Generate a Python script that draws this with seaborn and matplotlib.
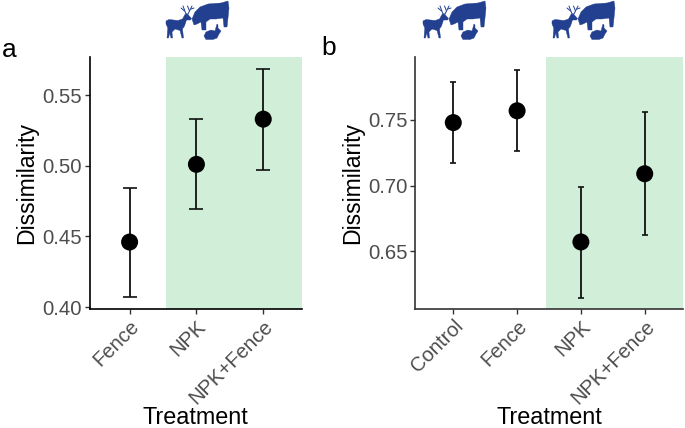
import numpy as np
import pandas as pd
import seaborn as sns
import matplotlib.pyplot as plt
from matplotlib.patches import Polygon

# panel a
treat_a = ["Fence", "NPK", "NPK+Fence"]
mean_a = [0.446, 0.501, 0.533]
low_a = [0.407, 0.4695, 0.497]
high_a = [0.484, 0.533, 0.5685]

# panel b
treat_b = ["Control", "Fence", "NPK", "NPK+Fence"]
mean_b = [0.748, 0.757, 0.657, 0.709]
low_b = [0.717, 0.7265, 0.614, 0.6625]
high_b = [0.779, 0.788, 0.699, 0.756]

ticks_a = [0.40, 0.45, 0.50, 0.55]
ticks_b = [0.65, 0.70, 0.75]

W, H = 685, 428
GREEN = "#d0eed8"
BLUE = "#22408f"

sns.set_theme(style="ticks")
plt.rcParams["font.family"] = ["Liberation Sans", "DejaVu Sans"]

fig = plt.figure(figsize=(W / 100, H / 100), dpi=100)


def px_axes(left, right, top, bottom):
    return fig.add_axes([left / W, 1 - bottom / H, (right - left) / W, (bottom - top) / H])


def panel(ax, treat, mean, low, high, ylim, yticks, xlim, green_from, cap, spine_col, ylab_x):
    df = pd.DataFrame({"Treatment": treat, "Dissimilarity": mean})
    ax.axvspan(green_from, xlim[1], color=GREEN, lw=0, zorder=0)
    ax.errorbar(range(len(treat)), mean,
                yerr=[np.array(mean) - np.array(low), np.array(high) - np.array(mean)],
                fmt="none", ecolor="#111111", elinewidth=1.3, capsize=cap, capthick=1.2, zorder=2)
    sns.scatterplot(data=df, x="Treatment", y="Dissimilarity", ax=ax, s=150, color="black",
                    edgecolor="none", zorder=3, clip_on=False)
    ax.set_xlim(*xlim)
    ax.set_ylim(*ylim)
    ax.set_yticks(yticks)
    ax.set_yticklabels([f"{t:.2f}" for t in yticks])
    ax.patch.set_alpha(0)
    sns.despine(ax=ax)
    for s in ["left", "bottom"]:
        ax.spines[s].set_linewidth(1.2)
        ax.spines[s].set_color(spine_col)
    ax.tick_params(axis="both", labelsize=14.6, labelcolor="#4d4d4d", color="#333333",
                   length=3.5, width=1, pad=2)
    plt.setp(ax.get_xticklabels(), rotation=45, ha="right", rotation_mode="anchor")
    ax.set_xlabel("Treatment", fontsize=16.8, color="black")
    ax.set_ylabel("Dissimilarity", fontsize=16.6, color="black")
    # axis titles sit at fixed pixel places like in the original layout
    ax.xaxis.set_label_coords(0.5, -(418 - 309) / (309 - 57), transform=ax.transAxes)
    ax.xaxis.label.set_va("center")
    box = ax.get_position()
    ax.yaxis.set_label_coords((ylab_x / W - box.x0) / box.width, 0.5, transform=ax.transAxes)
    ax.yaxis.label.set_va("center")


ax_a = px_axes(89.5, 302, 57, 309)
panel(ax_a, treat_a, mean_a, low_a, high_a, (0.3986, 0.5770), ticks_a, (-0.6, 2.58), 0.546, 4.8, "black", 27)

ax_b = px_axes(415, 683, 57, 309)
panel(ax_b, treat_b, mean_b, low_b, high_b, (0.6059, 0.7980), ticks_b, (-0.6, 3.6), 1.46, 2.3, "#333333", 353)

# animal icons, drawn on a pixel overlay
overlay = fig.add_axes([0, 0, 1, 1])
overlay.set_xlim(0, W)
overlay.set_ylim(H, 0)
overlay.axis("off")
overlay.patch.set_alpha(0)

deer = [(0, 21), (3, 19.5), (12, 20.5), (16.5, 19), (19, 14.5), (21, 13.5), (25.5, 18.5), (24.5, 20), (20.5, 20),
        (18.5, 26), (16.5, 29), (17.5, 38), (16, 38), (14, 30.5), (9, 29), (6, 32), (6.5, 38), (5, 38), (3.8, 33),
        (2.5, 38), (1, 38), (1.8, 28), (0, 24)]
cow = [(26, 19), (29, 12), (34, 7), (42, 4), (55, 3), (62, 1), (63, 8), (62, 18), (61, 27), (58, 27),
       (57, 18), (50, 19), (44, 19), (40, 22), (40, 30), (36, 30), (35, 22), (31, 24), (28, 25)]
rabbit = [(38, 36), (40, 32), (45, 30), (49, 31), (51, 24), (52, 25), (52, 28), (55, 31), (53, 34),
          (51, 38), (47, 39.5), (40, 39.5)]
antlers = [[(20, 14), (17, 6)], [(18.5, 11), (15, 8)], [(22, 14), (26, 6)], [(23.5, 11), (21.5, 6)], [(25, 9), (28, 8)]]


def icon(x0):
    for shape in [deer, cow, rabbit]:
        overlay.add_patch(Polygon([(x + x0, y) for x, y in shape], closed=True, fc=BLUE, ec=BLUE, lw=0.3))
    for seg in antlers:
        overlay.plot([p[0] + x0 for p in seg], [p[1] for p in seg], color=BLUE, lw=0.7)


for x0 in [166, 423, 552]:
    icon(x0)

overlay.text(1.5, 57, "a", fontsize=19, color="black", ha="left", va="baseline")
overlay.text(321, 55, "b", fontsize=19, color="black", ha="left", va="baseline")

fig.savefig("out.png", dpi=100)
